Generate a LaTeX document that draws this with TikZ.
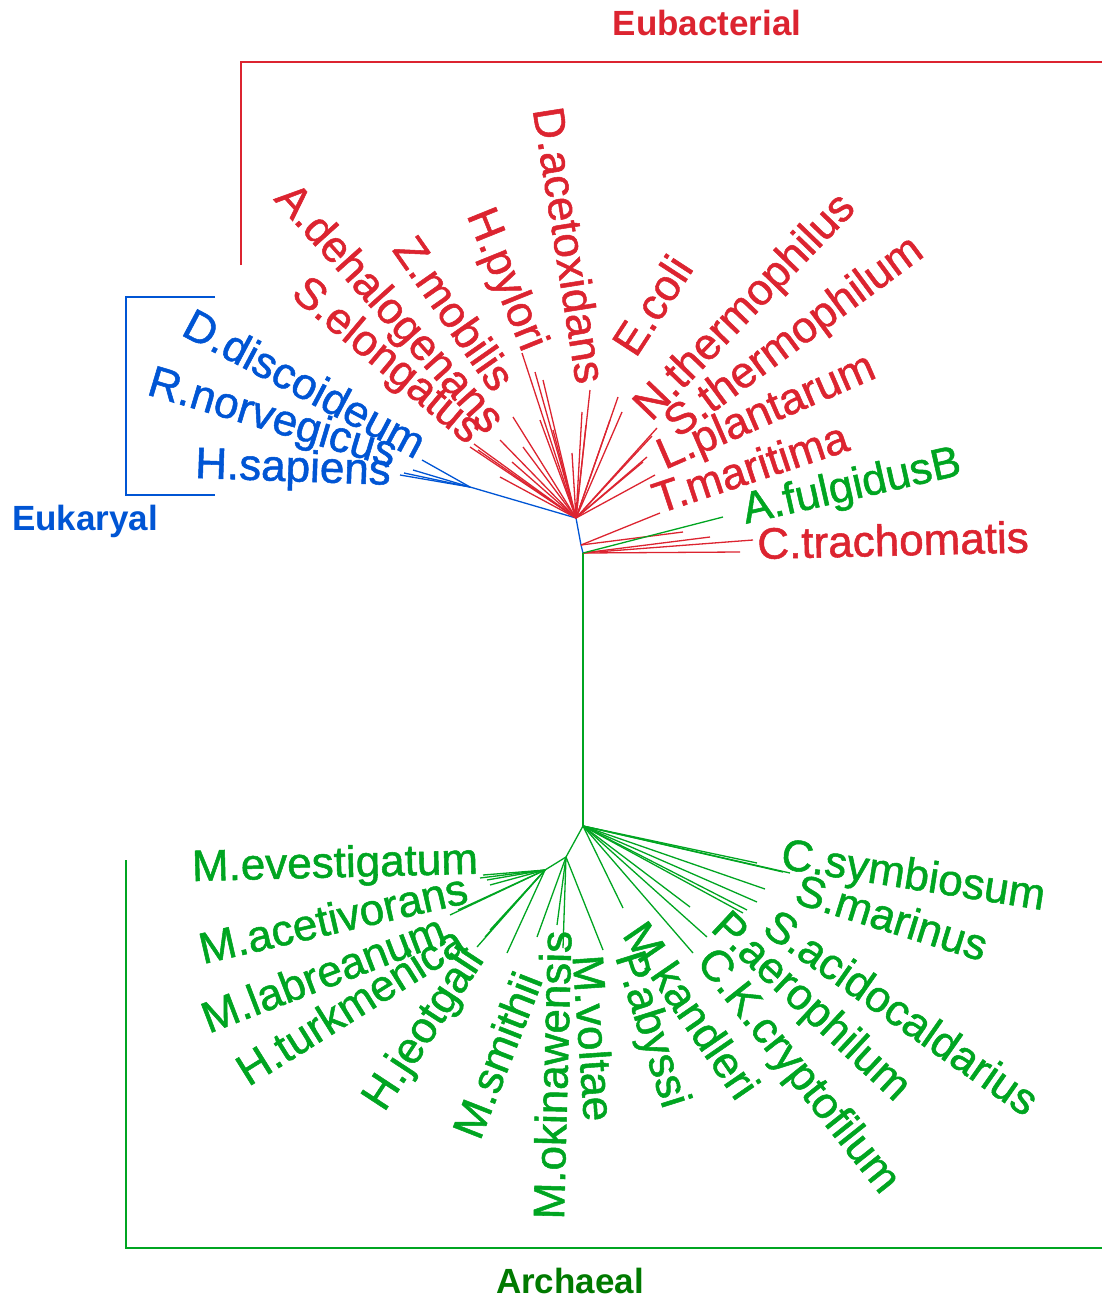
\documentclass[tikz,border=0pt]{standalone}
\usepackage{fontspec}
\setmainfont{Liberation Sans}
\newfontfamily\leaffont{Liberation Sans}[FakeBold=1.2]
\usepackage{tikz}
\definecolor{treeRed}{HTML}{DC2430}
\definecolor{treeBlue}{HTML}{0055D4}
\definecolor{treeGreen}{HTML}{00A521}
\definecolor{treeDark}{HTML}{007A00}
\tikzset{
  leaf/.style={inner sep=0pt,font=\leaffont\fontsize{44}{44}\selectfont},
  kingdom/.style={inner sep=0pt,font=\fontsize{35}{35}\selectfont\bfseries},
  branch/.style={line width=1.3pt},
  frame/.style={line width=2.6pt}
}
\begin{document}
\begin{tikzpicture}[x=1pt,y=-1pt]
  \useasboundingbox (0,0) rectangle (1102,1300);

  % domain brackets and titles
  \draw[frame,treeRed] (241,265) |- (1104,62);
  \draw[frame,treeBlue] (215,297) -| (126,495) -- (215,495);
  \draw[frame,treeGreen] (126,860) |- (1104,1248);
  \node[kingdom,treeRed] (eubac) at (707,23) {Eubacterial};
  \node[kingdom,treeBlue] (eukar) at (85,521) {Eukaryal};
  \node[kingdom,treeDark] (archa) at (570,1281) {Archaeal};

  % internal nodes
  \coordinate (r0) at (576,518);
  \coordinate (n1) at (581,545);
  \coordinate (n2) at (583,553);
  \coordinate (g0) at (583,826);
  \coordinate (e0) at (470,487);
  \coordinate (g1) at (566,857);
  \coordinate (g2) at (545,870);

  % trunk
  \draw[branch,treeBlue] (r0) -- (n1) -- (n2);
  \draw[branch,treeGreen] (n2) -- (g0);
  \draw[branch,treeGreen] (g0) -- (g1) -- (g2);

  % eukaryal branches
  \draw[branch,treeBlue] (r0) -- (e0);
  \foreach \p [count=\i] in {{422,460},{413,470},{400,475},{404,473}}{
    \coordinate (bt\i) at (\p);
    \draw[branch,treeBlue] (e0) -- (bt\i);
  }

  % eubacterial fan
  \foreach \p [count=\i] in {{470,447},{474,444},{478,450},{500,477},{513,417},
      {512,462},{523,447},{522,353},{535,372},{543,380},{553,430},{572,453},
      {582,412},{590,390},{586,425},{610,420},{618,397},{622,412},{657,428},
      {652,436},{647,457},{655,475},{643,462},{500,440},{540,420}}{
    \coordinate (rt\i) at (\p);
    \draw[branch,treeRed] (r0) -- (rt\i);
  }
  \foreach \p [count=\i] in {{660,513},{683,532}}{
    \coordinate (ru\i) at (\p);
    \draw[branch,treeRed] (n1) -- (ru\i);
  }
  \foreach \p [count=\i] in {{753,540},{740,552},{710,537}}{
    \coordinate (rv\i) at (\p);
    \draw[branch,treeRed] (n2) -- (rv\i);
  }
  \coordinate (afulg) at (723,517);
  \draw[branch,treeGreen] (n2) -- (afulg);

  % archaeal fan
  \foreach \p [count=\i] in {{483,875},{487,880},{490,885},{480,878},{450,915},
      {458,910},{477,947},{490,930},{485,937},{507,953}}{
    \coordinate (gl\i) at (\p);
    \draw[branch,treeGreen] (g2) -- (gl\i);
  }
  \foreach \p [count=\i] in {{537,937},{557,925},{563,948},{603,950}}{
    \coordinate (gm\i) at (\p);
    \draw[branch,treeGreen] (g1) -- (gm\i);
  }
  \foreach \p [count=\i] in {{623,908},{690,907},{707,937},{693,953},{747,910},
      {757,902},{765,889},{757,863},{783,872},{790,873},{743,913}}{
    \coordinate (gr\i) at (\p);
    \draw[branch,treeGreen] (g0) -- (gr\i);
  }

  % eubacterial labels
  \node[leaf,treeRed,rotate=-48] (adehal) at (388,310) {A.dehalogenans};
  \node[leaf,treeRed,rotate=-40] (selong) at (386,362) {S.elongatus};
  \node[leaf,treeRed,rotate=-55] (zmobil) at (455,313) {Z.mobilis};
  \node[leaf,treeRed,rotate=-68] (hpylor) at (505,280) {H.pylori};
  \node[leaf,treeRed,rotate=-81] (daceto) at (570,245) {D.acetoxidans};
  \node[leaf,treeRed,rotate=57] (ecoli) at (652,305) {E.coli};
  \node[leaf,treeRed,rotate=46] (nthermo) at (746,308) {N.thermophilus};
  \node[leaf,treeRed,rotate=36.5] (sthermo) at (795,338) {S.thermophilum};
  \node[leaf,treeRed,rotate=23.5] (lplant) at (767,413) {L.plantarum};
  \node[leaf,treeRed,rotate=18.4] (tmarit) at (750,467) {T.maritima};
  \node[leaf,treeGreen,rotate=12.8] (afulgl) at (852,488) {A.fulgidusB};
  \node[leaf,treeRed,rotate=1.4] (ctrach) at (893,540) {C.trachomatis};

  % eukaryal labels
  \node[leaf,treeBlue,rotate=-28] (ddisco) at (305,383) {D.discoideum};
  \node[leaf,treeBlue,rotate=-16.6] (rnorve) at (272,420) {R.norvegicus};
  \node[leaf,treeBlue,rotate=-2] (hsapie) at (293,470) {H.sapiens};

  % archaeal labels
  \node[leaf,treeGreen,rotate=1.5] (meves) at (335,866) {M.evestigatum};
  \node[leaf,treeGreen,rotate=13] (macet) at (333,918) {M.acetivorans};
  \node[leaf,treeGreen,rotate=21] (mlabr) at (323,973) {M.labreanum};
  \node[leaf,treeGreen,rotate=32] (hturk) at (350,1005) {H.turkmenica};
  \node[leaf,treeGreen,rotate=56.7] (hjeot) at (425,1030) {H.jeotgali};
  \node[leaf,treeGreen,rotate=68.6] (msmit) at (497,1055) {M.smithii};
  \node[leaf,treeGreen,rotate=88.5] (mokin) at (552,1075) {M.okinawensis};
  \node[leaf,treeGreen,rotate=-86] (mvolt) at (594,1038) {M.voltae};
  \node[leaf,treeGreen,rotate=-72.5] (pabys) at (650,1030) {P.abyssi};
  \node[leaf,treeGreen,rotate=-55.5] (mkand) at (692,1010) {M.kandleri};
  \node[leaf,treeGreen,rotate=-51.5] (ckcry) at (797,1072) {C.K.cryptofilum};
  \node[leaf,treeGreen,rotate=-43] (paero) at (810,1008) {P.aerophilum};
  \node[leaf,treeGreen,rotate=-35] (sacid) at (902,1012) {S.acidocaldarius};
  \node[leaf,treeGreen,rotate=-17.3] (smari) at (892,917) {S.marinus};
  \node[leaf,treeGreen,rotate=-9] (csymb) at (913,878) {C.symbiosum};
\end{tikzpicture}
\end{document}
